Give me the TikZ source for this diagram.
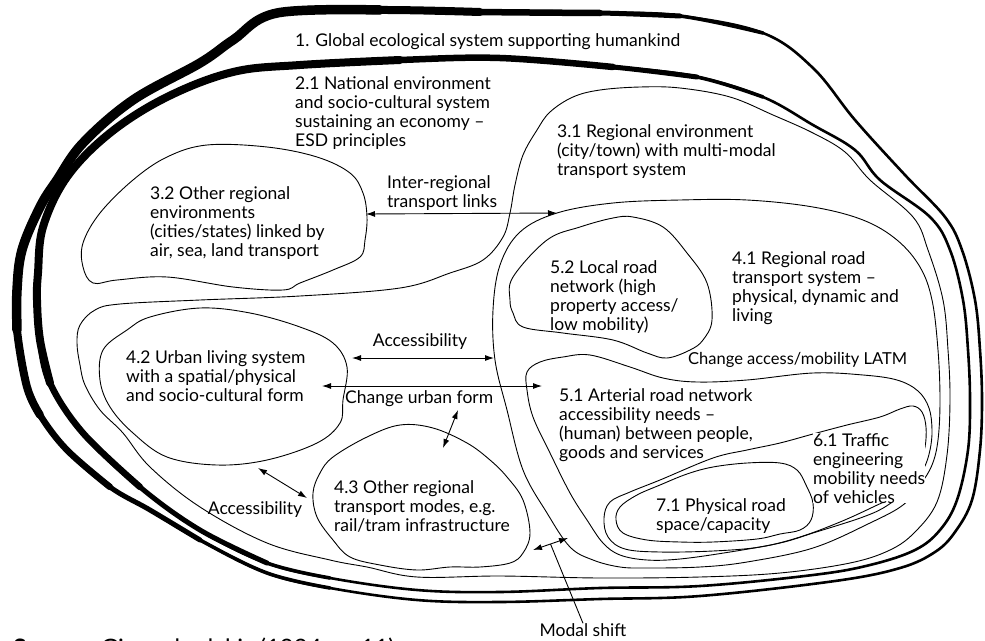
\documentclass[tikz,border=0pt]{standalone}
\usepackage{fontspec}
\setmainfont{Lato}
\usetikzlibrary{arrows.meta,calc}
\tikzset{
  txt/.style={font=\fontsize{17.5}{19}\selectfont, inner sep=0pt, align=left},
  blob/.style={line width=0.9pt, line join=round},
  thickA/.style={line width=2.6pt, line join=round, line cap=round},
  lay/.style={line width=#1, line cap=round, line join=round},
  dbl/.style={{Latex[length=9pt,width=6pt]}-{Latex[length=9pt,width=6pt]}, line width=0.9pt},
}
\begin{document}
\begin{tikzpicture}[x=1pt,y=-1pt]
\useasboundingbox (0,0) rectangle (985,640);

% ---------- 1. global (outer thick) ----------
\draw[thickA] plot[smooth cycle, tension=0.6] coordinates {
 (277,13) (380,10) (480,12) (600,13) (680,16) (763,33) (813,68) (855,120) (905,175)
 (945,217) (962,250) (975,300) (980,350) (982,400) (980,450) (972,500) (955,532)
 (935,552) (900,568) (835,581) (700,596) (600,599) (500,602) (417,600) (330,588)
 (267,573) (200,540) (150,510) (110,487) (67,450) (40,415) (27,387) (17,330)
 (17,290) (22,250) (40,207) (57,180) (83,143) (133,100) (200,63) (233,40)};
\draw[lay=3.6pt] plot[smooth, tension=0.6] coordinates {
 (330,588) (267,573) (200,540) (150,510) (110,487) (67,450) (40,415) (27,387) (17,330)
 (17,290) (22,250) (40,207) (57,180) (83,143) (133,100) (200,63) (233,40) (277,13)
 (380,10) (480,12) (600,13) (680,16) (763,33)};
\draw[lay=5pt] plot[smooth, tension=0.6] coordinates {
 (200,540) (150,510) (110,487) (67,450) (40,415) (27,387) (17,330) (17,290) (22,250)
 (40,207) (57,180) (83,143) (133,100) (200,63) (233,40) (277,13) (380,10) (480,12)
 (600,13) (680,16)};
\draw[lay=6.5pt] plot[smooth, tension=0.6] coordinates {
 (110,487) (67,450) (40,415) (27,387) (17,330) (17,290) (22,250) (40,207) (57,180)
 (83,143) (133,100) (200,63) (233,40) (277,13) (380,10) (480,12) (600,13)};
\draw[lay=8pt] plot[smooth, tension=0.6] coordinates {
 (40,415) (27,387) (17,330) (17,290) (22,250) (40,207) (57,180) (83,143) (133,100)
 (200,63) (233,40) (277,13) (380,10) (480,12)};
\draw[lay=9.5pt] plot[smooth, tension=0.6] coordinates {
 (17,330) (17,290) (22,250) (40,207) (57,180) (83,143) (133,100) (200,63) (233,40)
 (277,13) (380,10)};

% ---------- 2.1 national (second thick) ----------
\draw[thickA] plot[smooth cycle, tension=0.6] coordinates {
 (300,65) (400,60) (500,58) (613,67) (697,77) (763,97) (813,125) (855,150) (880,180)
 (930,217) (950,250) (963,300) (968,350) (970,400) (968,450) (957,500) (940,530)
 (915,550) (870,565) (813,575) (700,586) (600,588) (500,592) (417,590) (330,578)
 (267,563) (200,530) (140,487) (83,433) (50,383) (40,340) (37,300) (38,273)
 (43,227) (67,177) (110,133) (167,97) (233,72)};
\draw[lay=3.6pt] plot[smooth, tension=0.6] coordinates {
 (330,578) (267,563) (200,530) (140,487) (83,433) (50,383) (40,340) (37,300) (38,273)
 (43,227) (67,177) (110,133) (167,97) (233,72) (300,65) (400,60) (500,58) (613,67)
 (697,77) (763,97)};
\draw[lay=5pt] plot[smooth, tension=0.6] coordinates {
 (267,563) (200,530) (140,487) (83,433) (50,383) (40,340) (37,300) (38,273) (43,227)
 (67,177) (110,133) (167,97) (233,72) (300,65) (400,60) (500,58) (613,67) (697,77)};
\draw[lay=6.5pt] plot[smooth, tension=0.6] coordinates {
 (140,487) (83,433) (50,383) (40,340) (37,300) (38,273) (43,227) (67,177) (110,133)
 (167,97) (233,72) (300,65) (400,60) (500,58) (613,67)};
\draw[lay=8pt] plot[smooth, tension=0.6] coordinates {
 (50,383) (40,340) (37,300) (38,273) (43,227) (67,177) (110,133) (167,97) (233,72)
 (300,65) (400,60)};

% ---------- 3.1 regional environment ----------
\draw[blob] plot[smooth cycle, tension=0.6] coordinates {
 (417,577) (500,576) (600,578) (700,577) (780,573) (850,563) (890,550) (915,532)
 (937,502) (947,455) (950,400) (948,350) (943,300) (928,250) (913,217) (870,180)
 (845,152) (813,133) (773,115) (730,97) (680,88) (640,87) (600,90) (573,97) (550,112)
 (537,130) (523,155) (515,185) (510,213) (503,237) (483,260) (450,273) (400,288)
 (300,296) (200,300) (120,304) (95,310) (80,325) (77,343) (80,365) (85,385) (100,410)
 (123,433) (150,467) (200,507) (267,543) (330,560) (367,567)};

% ---------- 3.2 other regional environments ----------
\draw[blob] plot[smooth cycle, tension=0.6] coordinates {
 (207,145) (267,147) (317,157) (350,173) (363,193) (367,217) (365,240) (360,257)
 (333,270) (300,283) (283,290) (233,287) (167,277) (117,280) (93,283) (83,267)
 (83,243) (100,213) (133,180) (167,157)};

% ---------- 4.1 regional road transport system ----------
\draw[blob] plot[smooth cycle, tension=0.6] coordinates {
 (557,213) (613,203) (680,200) (747,200) (813,207) (863,220) (897,240) (920,267)
 (932,300) (938,350) (940,400) (938,440) (932,465) (920,485) (903,505) (870,523)
 (813,548) (747,562) (700,567) (647,568) (620,567) (593,560) (570,547) (547,513)
 (523,470) (507,410) (495,360) (493,310) (500,265) (520,232)};

% ---------- 4.2 urban living ----------
\draw[blob] plot[smooth cycle, tension=0.6] coordinates {
 (127,330) (150,317) (200,308) (250,313) (300,327) (333,343) (347,367) (343,400)
 (340,423) (317,443) (267,460) (217,465) (167,457) (133,433) (110,407) (100,380)
 (103,350)};

% ---------- 4.3 other regional transport modes ----------
\draw[blob] plot[smooth cycle, tension=0.6] coordinates {
 (320,473) (333,457) (367,437) (400,425) (433,428) (467,443) (490,460) (507,477)
 (523,500) (530,533) (523,553) (510,563) (480,567) (450,567) (417,570) (380,565)
 (350,557) (333,540) (317,517) (313,493)};

% ---------- 5.2 local road network ----------
\draw[blob] plot[smooth cycle, tension=0.6] coordinates {
 (633,217) (663,227) (687,253) (707,283) (712,320) (703,340) (690,350) (667,358)
 (647,353) (613,340) (563,333) (523,327) (513,313) (510,300) (513,277) (547,240)
 (580,227) (613,218)};

% ---------- 5.1 arterial road network ----------
\draw[blob] plot[smooth cycle, tension=0.6] coordinates {
 (527,372) (540,362) (563,357) (590,355) (630,367) (663,378) (697,382) (747,380)
 (813,373) (863,375) (897,380) (918,391) (929,408) (932,430) (930,450) (924,468)
 (912,485) (888,505) (863,517) (813,533) (780,543) (730,552) (680,559) (647,560)
 (620,555) (603,543) (587,520) (570,493) (550,453) (533,417) (527,390)};

% ---------- 6.1 traffic engineering ----------
\draw[blob] plot[smooth cycle, tension=0.6] coordinates {
 (604,518) (610,502) (630,492) (660,480) (713,458) (747,450) (780,443) (813,434)
 (847,425) (880,417) (900,409) (913,406) (922,412) (926,427) (925,447) (919,463)
 (910,480) (890,498) (873,507) (840,522) (800,537) (760,547) (713,551) (660,552)
 (625,549) (608,537)};

% ---------- 7.1 physical road space ----------
\draw[blob] plot[smooth cycle, tension=0.6] coordinates {
 (620,507) (637,495) (660,485) (687,474) (713,467) (747,463) (780,463) (797,470)
 (806,485) (813,503) (811,520) (800,530) (780,534) (757,539) (713,542) (680,542)
 (647,540) (623,533) (616,520)};

% ---------- texts ----------
\node[txt, anchor=west] (t1) at (295,42) {1. Global ecological system supporting humankind};
\node[txt, anchor=north west] (t21) at (295,76) {2.1 National environment\\and socio-cultural system\\sustaining an economy --\\ESD principles};
\node[txt, anchor=north west] (t31) at (557,124) {3.1 Regional environment\\(city/town) with multi-modal\\transport system};
\node[txt, anchor=north west] (t32) at (150,186) {3.2 Other regional\\environments\\(cities/states) linked by\\air, sea, land transport};
\node[txt, anchor=north west] (tir) at (387,175) {Inter-regional\\transport links};
\node[txt, anchor=north west] (t52) at (550,260) {5.2 Local road\\network (high\\property access/\\low mobility)};
\node[txt, anchor=north west] (t41) at (732,251) {4.1 Regional road\\transport system --\\physical, dynamic and\\living};
\node[txt, font=\fontsize{16.5}{19}\selectfont, anchor=west] (tlatm) at (688,360) {Change access/mobility LATM};
\node[txt, anchor=north west] (t42) at (126,350) {4.2 Urban living system\\with a spatial/physical\\and socio-cultural form};
\node[txt] (tacc1) at (420,342) {Accessibility};
\node[txt, anchor=west] (tcuf) at (345,399) {Change urban form};
\node[txt, anchor=north west] (t51) at (559,388) {5.1 Arterial road network\\accessibility needs --\\(human) between people,\\goods and services};
\node[txt, anchor=north west, fill=white] (t61) at (813,433) {6.1 Traffic\\engineering\\mobility needs\\of vehicles};
\node[txt, anchor=north west] (t71) at (656,498) {7.1 Physical road\\space/capacity};
\node[txt, anchor=north west] (t43) at (334,480) {4.3 Other regional\\transport modes, e.g.\\rail/tram infrastructure};
\node[txt] (tacc2) at (255,510) {Accessibility};
\node[txt] (tmodal) at (583,630) {Modal shift};
\node[font=\fontsize{24}{28}\selectfont, inner sep=0pt, anchor=base west] (tsrc) at (13,656) {\textbf{Source:} Giannakodakis (1994, p. 11)};

% ---------- arrows ----------
\coordinate (ir1) at (366,214);
\coordinate (ir2) at (557,213);
\draw[dbl] (ir1) -- (ir2);
\coordinate (ac1) at (352,358);
\coordinate (ac2) at (494,358);
\draw[dbl] (ac1) -- (ac2);
\coordinate (cu1) at (322,386);
\coordinate (cu2) at (542,386);
\draw[dbl] (cu1) -- (cu2);
\coordinate (sh1) at (458,410);
\coordinate (sh2) at (443,448);
\draw[dbl] (sh1) -- (sh2);
\coordinate (ab1) at (258,468);
\coordinate (ab2) at (307,498);
\draw[dbl] (ab1) -- (ab2);
\coordinate (ms1) at (533,550);
\coordinate (ms2) at (568,538);
\draw[dbl] (ms1) -- (ms2);
\draw[line width=0.9pt] ($(ms1)!0.5!(ms2)$) -- (tmodal.north);
\end{tikzpicture}
\end{document}
